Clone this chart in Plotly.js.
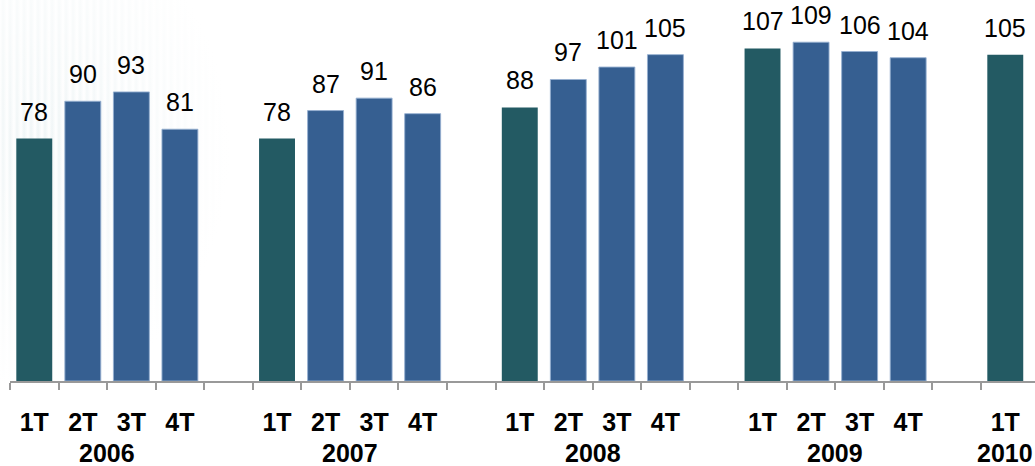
<!DOCTYPE html>
<html>
<head>
<meta charset="utf-8">
<script src="https://cdn.plot.ly/plotly-3.0.1.min.js"></script>
<style>
  html, body { margin: 0; padding: 0; background: #ffffff; }
  #wrap {
    position: relative; width: 1035px; height: 466px;
    background:
      repeating-linear-gradient(90deg, rgba(225,236,238,0) 0px, rgba(225,236,238,0.55) 3px, rgba(225,236,238,0) 7px),
      #ffffff;
  }
  #wrap::after {
    content: ""; position: absolute; inset: 0;
    background: radial-gradient(ellipse 190px 240px at 40px 150px, rgba(255,255,255,0) 0%, rgba(255,255,255,0.6) 60%, #ffffff 100%);
  }
  #chart { position: absolute; left: 0; top: 0; width: 1035px; height: 466px; z-index: 1; }
</style>
</head>
<body>
<div id="wrap"><div id="chart"></div></div>
<script>
// Quarterly figures, one array per year
const quarters = ['1T', '2T', '3T', '4T'];
const years = ['2006', '2007', '2008', '2009', '2010'];
const values2006 = [78, 90, 93, 81];
const values2007 = [78, 87, 91, 86];
const values2008 = [88, 97, 101, 105];
const values2009 = [107, 109, 106, 104];
const values2010 = [105];

const colorFirst = '#235a63';
const colorOther = '#365f91';

const perYear = [values2006, values2007, values2008, values2009, values2010];

// Lay the quarters out in slots, leaving an empty slot between years
const xs = [], ys = [], colors = [], lines = [];
const tickPos = [], tickText = [], yearPos = [];
let slot = 0;
perYear.forEach((vals, yi) => {
  const start = slot;
  vals.forEach((v, qi) => {
    xs.push(slot); ys.push(v);
    colors.push(qi === 0 ? colorFirst : colorOther);
    lines.push(qi === 0 ? 'rgba(0,0,0,0)' : 'rgba(150,175,208,0.9)');
    tickPos.push(slot); tickText.push(quarters[qi]);
    slot++;
  });
  yearPos.push(start + (vals.length - 1) / 2);
  if (yi < perYear.length - 1) slot++;
});
const lastSlot = slot - 1;

// Tick marks sit on slot boundaries
const boundaries = [];
for (let b = -0.5; b < lastSlot; b += 1) boundaries.push(b);

const labelFont = { family: 'Liberation Sans, Arial, sans-serif', size: 25, color: '#000000' };
const axisFont = { family: 'Liberation Sans, Arial, sans-serif', size: 25, color: '#000000', weight: 'bold' };

const annotations = [];
xs.forEach((x, i) => {
  annotations.push({
    x: x, y: ys[i], xref: 'x', yref: 'y',
    text: String(ys[i]), showarrow: false,
    xanchor: 'center', yanchor: 'bottom', yshift: 11,
    font: labelFont
  });
});
years.forEach((yr, i) => {
  annotations.push({
    x: yearPos[i], y: 0, xref: 'x', yref: 'paper',
    text: '<b>' + yr + '</b>', showarrow: false,
    xanchor: 'center', yanchor: 'middle', yshift: -72,
    font: axisFont
  });
});

const trace = {
  type: 'bar',
  x: xs, y: ys,
  marker: { color: colors, line: { color: lines, width: 1 } },
  width: 0.74,
  hoverinfo: 'skip'
};

const layout = {
  width: 1035, height: 466,
  margin: { l: 10, r: 0, t: 8, b: 85 },
  paper_bgcolor: 'rgba(0,0,0,0)',
  plot_bgcolor: 'rgba(0,0,0,0)',
  showlegend: false,
  xaxis: {
    type: 'linear',
    range: [-0.5, -0.5 + 1025 / 48.55],
    tickmode: 'array', tickvals: tickPos, ticktext: tickText,
    ticks: '', tickfont: axisFont, ticklabelstandoff: 18,
    showgrid: false, zeroline: false,
    showline: true, linecolor: '#999999', linewidth: 2,
    minor: { tickmode: 'array', tickvals: boundaries, ticks: 'outside', ticklen: 7, tickwidth: 2, tickcolor: '#999999', showgrid: false },
    fixedrange: true
  },
  yaxis: {
    range: [0, 120],
    visible: false, showgrid: false, zeroline: false,
    fixedrange: true
  },
  annotations: annotations
};

Plotly.newPlot('chart', [trace], layout, { staticPlot: true, displayModeBar: false });
</script>
</body>
</html>
